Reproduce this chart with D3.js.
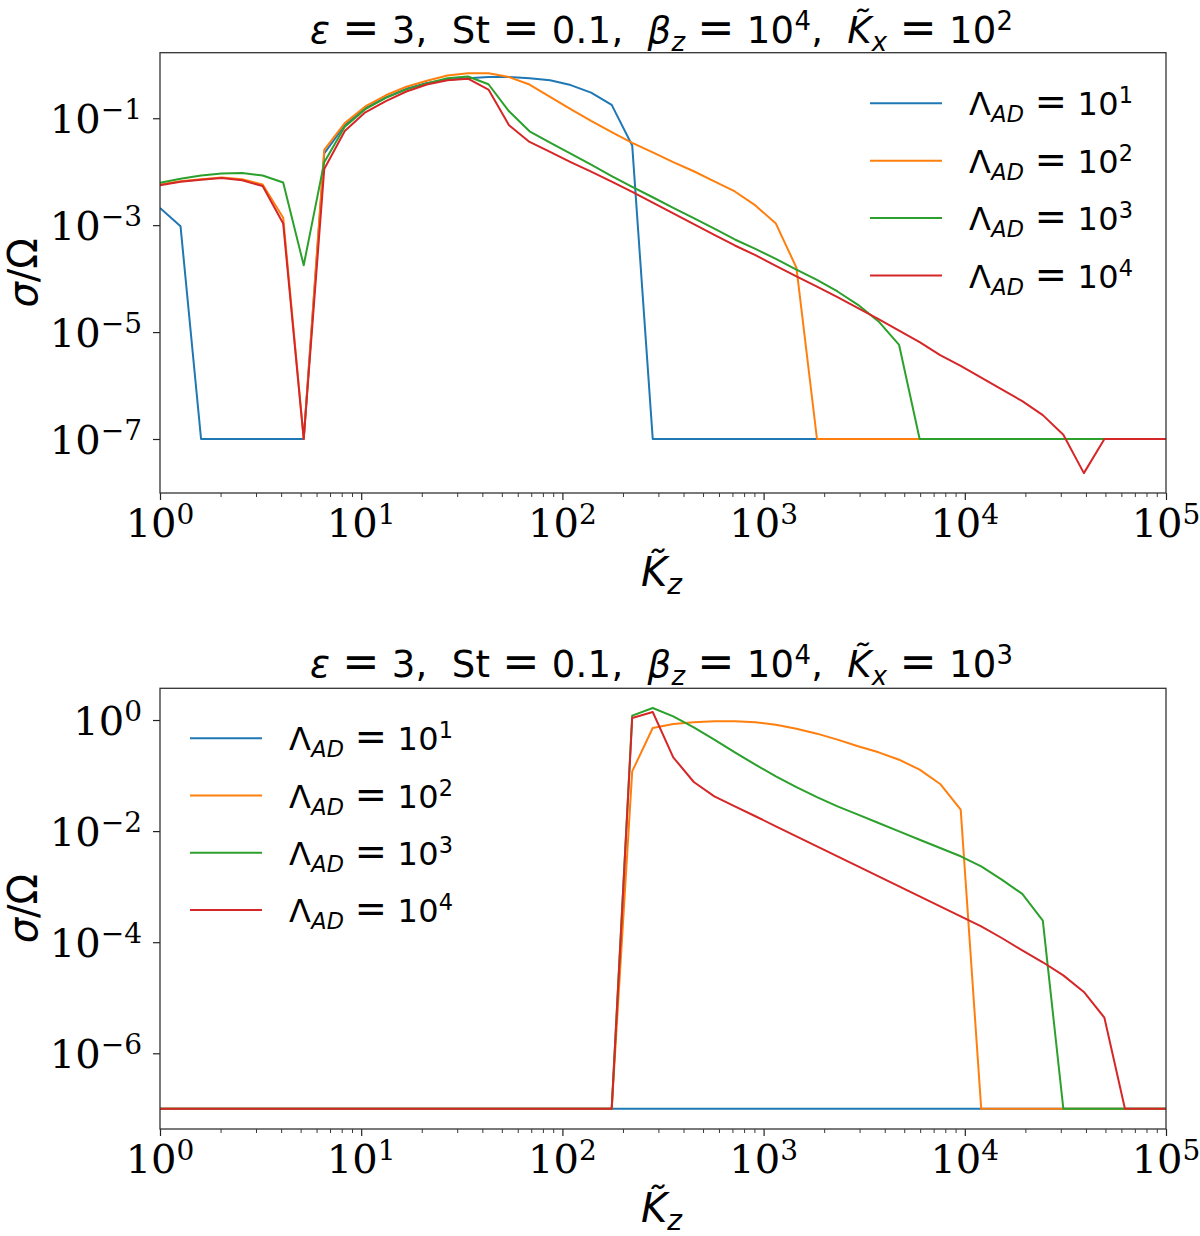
<!DOCTYPE html>
<html><head><meta charset="utf-8">
<script src="https://cdn.jsdelivr.net/npm/d3@7"></script>
<style>body{margin:0;background:#fff} svg{display:block} text{white-space:pre}</style>
</head><body><svg id="c" width="1200" height="1236"></svg>
<script>
// ---------------- DATA ----------------
const kz = [1, 1.265, 1.600, 2.024, 2.560, 3.237, 4.095, 5.179, 6.551, 8.286,
  10.48, 13.26, 16.77, 21.21, 26.83, 33.93, 42.92, 54.29, 68.66, 86.85,
  109.9, 138.9, 175.8, 222.3, 281.2, 355.6, 449.8, 569.0, 719.7, 910.3,
  1151, 1456, 1842, 2330, 2947, 3728, 4715, 5964, 7543, 9541,
  12068, 15264, 19307, 24421, 30888, 39069, 49417, 62506, 79060, 100000];

const F = 1e-7; // floor value in the plot

// Panel 1: Kx = 10^2
const k2_AD1 = [2.1e-3, 9.5e-4, F, F, F, F, F, F, 2.2e-2, 7.4e-2,
  0.155, 0.245, 0.355, 0.457, 0.525, 0.562, 0.589, 0.589, 0.562, 0.513,
  0.417, 0.302, 0.178, 0.031, F, F, F, F, F, F,
  F, F, F, F, F, F, F, F, F, F,
  F, F, F, F, F, F, F, F, F, F];
const k2_AD2 = [5.75e-3, 6.6e-3, 7.2e-3, 7.8e-3, 7.2e-3, 5.75e-3, 1.38e-3, F, 2.57e-2, 8.1e-2,
  0.166, 0.269, 0.389, 0.501, 0.631, 0.692, 0.692, 0.589, 0.427, 0.251,
  0.148, 8.9e-2, 5.5e-2, 3.47e-2, 2.29e-2, 1.51e-2, 1.02e-2, 6.6e-3, 4.27e-3, 2.34e-3,
  1.07e-3, 1.6e-4, F, F, F, F, F, F, F, F,
  F, F, F, F, F, F, F, F, F, F];
const k2_AD3 = [6.2e-3, 7.4e-3, 8.5e-3, 9.3e-3, 9.5e-3, 8.5e-3, 6.3e-3, 1.78e-4, 1.51e-2, 6.9e-2,
  0.148, 0.24, 0.347, 0.447, 0.562, 0.603, 0.432, 0.135, 5.7e-2, 3.5e-2,
  2.18e-2, 1.36e-2, 8.3e-3, 5.2e-3, 3.33e-3, 2.1e-3, 1.35e-3, 8.6e-4, 5.4e-4, 3.6e-4,
  2.34e-4, 1.48e-4, 9.5e-5, 5.75e-5, 3.24e-5, 1.58e-5, 5.75e-6, F, F, F,
  F, F, F, F, F, F, F, F, F, F];
const k2_AD4 = [5.6e-3, 6.5e-3, 7.1e-3, 7.6e-3, 6.9e-3, 5.4e-3, 1.07e-3, F, 1.12e-2, 5.75e-2,
  0.129, 0.209, 0.316, 0.427, 0.513, 0.55, 0.344, 7.4e-2, 3.6e-2, 2.34e-2,
  1.51e-2, 1.0e-2, 6.5e-3, 4.2e-3, 2.63e-3, 1.66e-3, 1.05e-3, 6.6e-4, 4.17e-4, 2.75e-4,
  1.74e-4, 1.1e-4, 7.1e-5, 4.5e-5, 2.8e-5, 1.74e-5, 1.07e-5, 6.5e-6, 3.7e-6, 2.34e-6,
  1.41e-6, 8.5e-7, 5.1e-7, 2.8e-7, 1.2e-7, 2.3e-8, F, F, F, F];

// Panel 2: Kx = 10^3
const k3_AD1 = [F, F, F, F, F, F, F, F, F, F,
  F, F, F, F, F, F, F, F, F, F,
  F, F, F, F, F, F, F, F, F, F,
  F, F, F, F, F, F, F, F, F, F,
  F, F, F, F, F, F, F, F, F, F];
const k3_AD2 = [F, F, F, F, F, F, F, F, F, F,
  F, F, F, F, F, F, F, F, F, F,
  F, F, F, 0.119, 0.718, 0.847, 0.908, 0.946, 0.946, 0.908,
  0.824, 0.698, 0.568, 0.443, 0.336, 0.262, 0.193, 0.128, 7.05e-2, 2.43e-2,
  F, F, F, F, F, F, F, F, F, F];
const k3_AD3 = [F, F, F, F, F, F, F, F, F, F,
  F, F, F, F, F, F, F, F, F, F,
  F, F, F, 1.197, 1.644, 1.164, 0.738, 0.443, 0.262, 0.157,
  9.7e-2, 6.2e-2, 4.1e-2, 2.79e-2, 1.98e-2, 1.4e-2, 9.9e-3, 7.0e-3, 4.97e-3, 3.52e-3,
  2.32e-3, 1.34e-3, 7.4e-4, 2.44e-4, F, F, F, F, F, F];
const k3_AD4 = [F, F, F, F, F, F, F, F, F, F,
  F, F, F, F, F, F, F, F, F, F,
  F, F, F, 1.086, 1.393, 0.213, 7.66e-2, 4.23e-2, 2.79e-2, 1.85e-2,
  1.22e-2, 8.05e-3, 5.32e-3, 3.52e-3, 2.32e-3, 1.53e-3, 1.01e-3, 6.7e-4, 4.43e-4, 2.92e-4,
  1.93e-4, 1.19e-4, 7.1e-5, 4.35e-5, 2.53e-5, 1.27e-5, 4.37e-6, F, F, F];

const legendExps = ["1", "2", "3", "4"];
const colors = ["#1f77b4", "#ff7f0e", "#2ca02c", "#d62728"];
const xTickExps = [0, 1, 2, 3, 4, 5];
const yTickExpsTop = [-7, -5, -3, -1];
const yTickExpsBot = [-6, -4, -2, 0];
const kxExps = ["2", "3"];

// ---------------- LAYOUT ----------------
const L = 160, R = 1166;
const panels = [
  { top: 52.7, bottom: 493, ylim: [Math.pow(10, -8.01), Math.pow(10, 0.226)],
    series: [k2_AD1, k2_AD2, k2_AD3, k2_AD4], yTicks: yTickExpsTop, kx: kxExps[0],
    titleY: 43, legend: { x0: 870, x1: 942, tx: 969, y0: 103.3, dy: 57.4 } },
  { top: 688.3, bottom: 1129, ylim: [Math.pow(10, -7.363), Math.pow(10, 0.571)],
    series: [k3_AD1, k3_AD2, k3_AD3, k3_AD4], yTicks: yTickExpsBot, kx: kxExps[1],
    titleY: 677, legend: { x0: 190, x1: 262, tx: 289, y0: 738.3, dy: 57.2 } }
];

const svg = d3.select("#c");
svg.append("rect").attr("width", 1200).attr("height", 1236).attr("fill", "#fff");

const SANS = "'DejaVu Sans', sans-serif";
const SERIF = "'DejaVu Serif', serif";

// segments: t text, i italic, p 'sup'|'sub', b (size factor for big relation signs)
function mathText(sel, segs, size, scale, supShift, subShift) {
  let cur = 0;
  segs.forEach(s => {
    const target = s.p === "sup" ? -supShift : (s.p === "sub" ? subShift : 0);
    const fs = s.p ? size * scale : size * (s.b || 1);
    sel.append("tspan").text(s.t)
      .attr("dy", target - cur)
      .attr("font-size", fs)
      .attr("font-style", s.i ? "italic" : "normal");
    cur = target;
  });
}
function fitWidth(textSel, width) {
  textSel.attr("textLength", width).attr("lengthAdjust", "spacing");
}
const EQ = [{ t: " " }, { t: "=", b: 1.2 }, { t: " " }];

panels.forEach((p, pi) => {
  const x = d3.scaleLog().domain([1, 1e5]).range([L, R]);
  const y = d3.scaleLog().domain(p.ylim).range([p.bottom, p.top]);
  const g = svg.append("g");

  const clipId = "clip" + pi;
  g.append("clipPath").attr("id", clipId).append("rect")
    .attr("x", L).attr("y", p.top).attr("width", R - L).attr("height", p.bottom - p.top);

  // lines
  const line = d3.line().x((d, i) => x(kz[i])).y(d => y(d));
  p.series.forEach((s, si) => {
    g.append("path").datum(s).attr("d", line)
      .attr("fill", "none").attr("stroke", colors[si]).attr("stroke-width", 2)
      .attr("stroke-linejoin", "round").attr("clip-path", `url(#${clipId})`);
  });

  // axes (ticks)
  const majors = xTickExps.map(e => Math.pow(10, e));
  const minors = [];
  for (let e = 0; e < 5; e++) for (let m = 2; m <= 9; m++) minors.push(m * Math.pow(10, e));
  const axB = g.append("g").attr("transform", `translate(0,${p.bottom})`)
    .call(d3.axisBottom(x).tickValues(majors).tickSize(7).tickFormat(""));
  const axBm = g.append("g").attr("transform", `translate(0,${p.bottom})`)
    .call(d3.axisBottom(x).tickValues(minors).tickSize(4).tickFormat(""));
  const axL = g.append("g").attr("transform", `translate(${L},0)`)
    .call(d3.axisLeft(y).tickValues(p.yTicks.map(e => Math.pow(10, e))).tickSize(7).tickFormat(""));
  [axB, axBm, axL].forEach(a => {
    a.select(".domain").remove();
    a.selectAll("line").attr("stroke", "#222").attr("stroke-width", 1.2);
  });
  axBm.selectAll("line").attr("stroke-width", 0.9);

  // frame
  g.append("rect").attr("x", L).attr("y", p.top).attr("width", R - L).attr("height", p.bottom - p.top)
    .attr("fill", "none").attr("stroke", "#333").attr("stroke-width", 1.3);

  // x tick labels
  xTickExps.forEach(e => {
    const t = g.append("text").attr("x", x(Math.pow(10, e))).attr("y", p.bottom + 43.5)
      .attr("text-anchor", "middle").attr("font-family", SERIF).attr("fill", "#000");
    mathText(t, [{ t: "10" }, { t: String(e), p: "sup" }], 40, 0.7, 13, 0);
  });
  // y tick labels
  p.yTicks.forEach(e => {
    const t = g.append("text").attr("x", 142).attr("y", y(Math.pow(10, e)) + 14.6)
      .attr("text-anchor", "end").attr("font-family", SERIF).attr("fill", "#000");
    const lab = e < 0 ? "\u2212" + (-e) : String(e);
    mathText(t, [{ t: "10" }, { t: lab, p: "sup" }], 40, 0.7, 14, 0);
  });

  // title
  const tt = g.append("text").attr("x", 310).attr("y", p.titleY).attr("text-anchor", "start")
    .attr("font-family", SANS).attr("fill", "#000");
  mathText(tt, [
    { t: "\u03b5", i: true }, ...EQ, { t: "3,  " }, { t: "St" }, ...EQ, { t: "0.1,  " },
    { t: "\u03b2", i: true }, { t: "z", i: true, p: "sub" }, ...EQ, { t: "10" }, { t: "4", p: "sup" },
    { t: ",  " }, { t: "K\u0303", i: true }, { t: "x", i: true, p: "sub" }, ...EQ, { t: "10" }, { t: p.kx, p: "sup" }
  ], 37, 0.7, 13, 8);
  fitWidth(tt, 703);

  // axis titles
  const xt = g.append("text").attr("x", 641).attr("y", p.bottom + 93).attr("text-anchor", "start")
    .attr("font-family", SANS).attr("fill", "#000");
  mathText(xt, [{ t: "K\u0303", i: true }, { t: "z", i: true, p: "sub" }], 40, 0.7, 12, 8);

  const ym = (p.top + p.bottom) / 2;
  const yt = g.append("text").attr("transform", `translate(37,${ym}) rotate(-90)`)
    .attr("text-anchor", "middle").attr("font-family", SANS).attr("fill", "#000");
  mathText(yt, [{ t: "\u03c3", i: true }, { t: "/\u03a9" }], 40, 0.7, 12, 7);

  // legend
  legendExps.forEach((le, li) => {
    const ly = p.legend.y0 + li * p.legend.dy;
    g.append("line").attr("x1", p.legend.x0).attr("x2", p.legend.x1).attr("y1", ly).attr("y2", ly)
      .attr("stroke", colors[li]).attr("stroke-width", 2);
    const t = g.append("text").attr("x", p.legend.tx).attr("y", ly + 12)
      .attr("font-family", SANS).attr("fill", "#000");
    mathText(t, [{ t: "\u039b" }, { t: "AD", i: true, p: "sub" }, ...EQ, { t: "10" }, { t: le, p: "sup" }], 32, 0.7, 12, 7);
    fitWidth(t, 164);
  });
});
</script></body></html>
